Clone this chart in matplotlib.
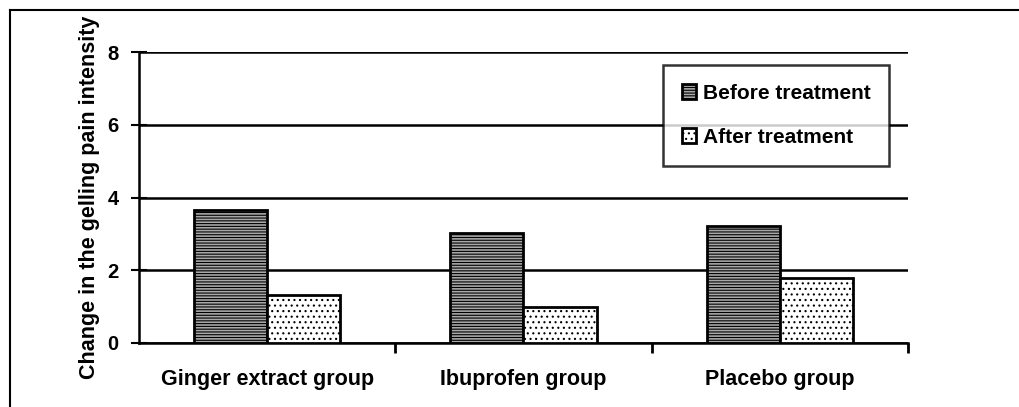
import matplotlib.pyplot as plt
import numpy as np
from matplotlib.lines import Line2D

plt.rcParams['font.family'] = ['Liberation Sans', 'DejaVu Sans']
plt.rcParams['font.weight'] = 'bold'
plt.rcParams['hatch.linewidth'] = 0.8

# 数据
groups = ["Ginger extract group", "Ibuprofen group", "Placebo group"]
before = [3.65, 3.02, 3.23]
after = [1.31, 0.98, 1.80]
series_names = ["Before treatment", "After treatment"]

fig = plt.figure(figsize=(10.2, 4.07), dpi=100)
ax = fig.add_axes([139 / 1020, 1 - 343 / 407, (908 - 139) / 1020, (343 - 52) / 407])

x = np.arange(len(groups))
w = 0.285

plt.rcParams['hatch.color'] = '#4a4a4a'
b1 = ax.bar(x - w / 2, before, w, facecolor='#a8a8a8', edgecolor='black',
            linewidth=2, hatch='------', zorder=3, label=series_names[0])
plt.rcParams['hatch.color'] = '#8a8a8a'
b2 = ax.bar(x + w / 2, after, w, facecolor='white', edgecolor='black',
            linewidth=2, hatch='...', zorder=3, label=series_names[1])
for p in list(b1) + list(b2):
    p.set_edgecolor('black')

ax.set_xlim(-0.5, 2.5)
ax.set_ylim(0, 8)
ax.set_yticks([0, 2, 4, 6, 8])
ax.set_xticks([0.5, 1.5, 2.5])
ax.set_xticklabels([])
ax.set_xticks(x, minor=True)
ax.set_xticklabels(groups, minor=True, fontsize=15.5, fontweight='bold')
ax.tick_params(axis='x', which='minor', length=0, pad=19)
ax.tick_params(axis='x', which='major', length=7, width=2, direction='out')
ax.tick_params(axis='y', length=11, width=1.5, direction='inout', labelsize=14.5, pad=9)

ax.grid(axis='y', color='black', linewidth=1.8, zorder=0)
for s in ['top', 'right']:
    ax.spines[s].set_visible(False)
ax.spines['left'].set_linewidth(1.8)
ax.spines['bottom'].set_linewidth(1.8)

ax.set_ylabel("Change in the gelling pain intensity", fontsize=15.5, fontweight='bold')
ax.yaxis.set_label_coords(-0.0505, 0.5)

leg = ax.legend(loc='upper left', bbox_to_anchor=(663 / 1020, 1 - 65 / 407), bbox_transform=fig.transFigure,
                frameon=True, fancybox=False, edgecolor='black', fontsize=15,
                handlelength=0.7, handleheight=0.7, handletextpad=0.3,
                labelspacing=1.2, borderpad=0.9, borderaxespad=0)
leg.get_frame().set_linewidth(1.8)
for t in leg.get_texts():
    t.set_fontweight('bold')

# 外框
fig.add_artist(Line2D([10 / 1020, 10 / 1020], [0, 1 - 10 / 407], color='black', linewidth=1.5))
fig.add_artist(Line2D([10 / 1020, 1], [1 - 10 / 407, 1 - 10 / 407], color='black', linewidth=1.5))

fig.savefig('out.png', dpi=100)
